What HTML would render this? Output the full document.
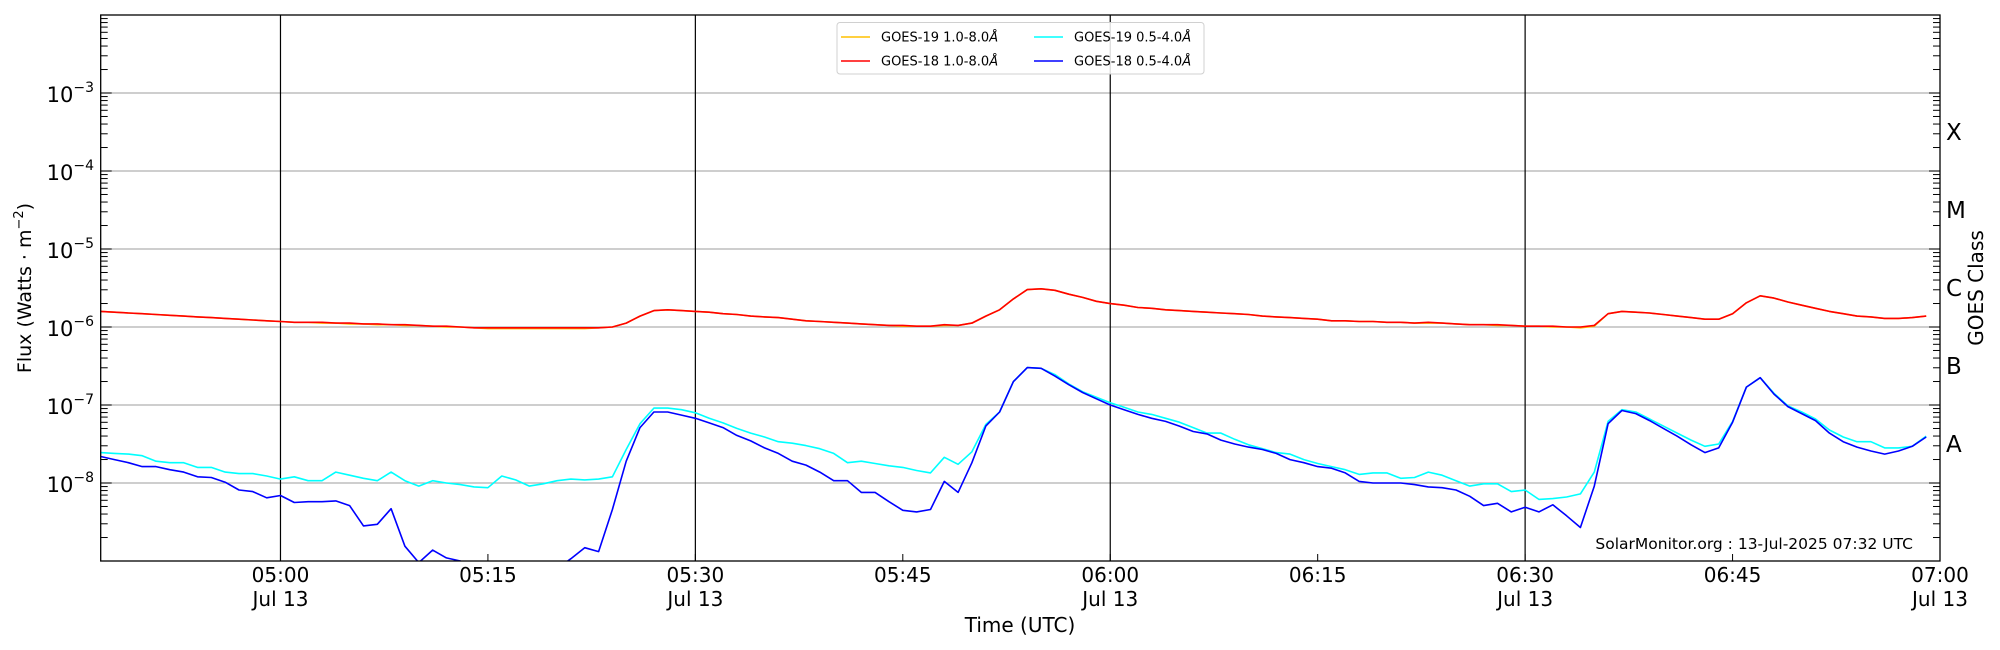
<!DOCTYPE html>
<html><head><meta charset="utf-8">
<style>
html,body{margin:0;padding:0;background:#fff;}
svg{display:block;font-family:"DejaVu Sans","Liberation Sans",sans-serif;}
</style></head>
<body>
<svg id="chart" width="2000" height="650" viewBox="0 0 2000 650" xmlns="http://www.w3.org/2000/svg">
  <defs><clipPath id="plotclip"><rect x="100.7" y="15" width="1839.3" height="546"/></clipPath></defs>
  <rect x="0" y="0" width="2000" height="650" fill="#fff"/>
  <g id="grid"></g>
  <g id="vlines"></g>
  <g id="series" clip-path="url(#plotclip)"></g>
  <rect x="100.7" y="15" width="1839.3" height="546" fill="none" stroke="#000" stroke-width="1.3"/>
  <g id="ticks"></g>
  <g id="ylabels" font-size="21" text-anchor="end"></g>
  <g id="xlabels" font-size="20" text-anchor="middle"></g>
  <g id="classlabels" font-size="23"></g>
  <text x="0" y="0" font-size="19" text-anchor="middle" transform="translate(31,288) rotate(-90)">Flux (Watts · m<tspan font-size="13" dy="-8">−2</tspan><tspan dy="8">)</tspan></text>
  <text x="1020" y="632" font-size="20" text-anchor="middle">Time (UTC)</text>
  <text x="0" y="0" font-size="20" text-anchor="middle" transform="translate(1983,288) rotate(-90)">GOES Class</text>
  <text x="1913" y="549" font-size="15.5" text-anchor="end">SolarMonitor.org : 13-Jul-2025 07:32 UTC</text>
  <g>
    <rect x="837" y="22.5" width="367" height="51.5" rx="3" fill="#fff" fill-opacity="0.85" stroke="#d0d0d0" stroke-width="1"/>
    <g>
      <line x1="841" y1="37" x2="870" y2="37" stroke="#ffc000" stroke-width="1.5"/>
      <text x="881" y="41.5" font-size="13">GOES-19 1.0-8.0<tspan font-style="italic">Å</tspan></text>
    </g>
    <g>
      <line x1="841" y1="61" x2="870" y2="61" stroke="#ff0000" stroke-width="1.5"/>
      <text x="881" y="65.5" font-size="13">GOES-18 1.0-8.0<tspan font-style="italic">Å</tspan></text>
    </g>
    <g>
      <line x1="1034" y1="37" x2="1063" y2="37" stroke="#00ffff" stroke-width="1.5"/>
      <text x="1074" y="41.5" font-size="13">GOES-19 0.5-4.0<tspan font-style="italic">Å</tspan></text>
    </g>
    <g>
      <line x1="1034" y1="61" x2="1063" y2="61" stroke="#0000ff" stroke-width="1.5"/>
      <text x="1074" y="65.5" font-size="13">GOES-18 0.5-4.0<tspan font-style="italic">Å</tspan></text>
    </g>
  </g>
</svg>
<script>
// ---- data (log10 of flux in W/m^2, one sample per minute starting 04:47 UTC) ----
const startMinute = 4 * 60 + 47;
const xTickMinutes = [300, 315, 330, 345, 360, 375, 390, 405, 420];
const xTickLabels = ["05:00", "05:15", "05:30", "05:45", "06:00", "06:15", "06:30", "06:45", "07:00"];
const markerMinutes = [300, 330, 360, 390];
const yTickExponents = [-3, -4, -5, -6, -7, -8];
const classLetters = ["A", "B", "C", "M", "X"];
const classExponents = [-8, -7, -6, -5, -4];

const g18LongLog = [-5.80,-5.81,-5.82,-5.83,-5.84,-5.85,-5.86,-5.87,-5.88,-5.89,-5.90,-5.91,-5.92,-5.93,-5.94,-5.94,-5.94,-5.95,-5.95,-5.96,-5.96,-5.97,-5.97,-5.98,-5.99,-5.99,-6.00,-6.01,-6.01,-6.01,-6.01,-6.01,-6.01,-6.01,-6.01,-6.01,-6.01,-6.00,-5.95,-5.86,-5.79,-5.78,-5.79,-5.80,-5.81,-5.83,-5.84,-5.86,-5.87,-5.88,-5.90,-5.92,-5.93,-5.94,-5.95,-5.96,-5.97,-5.98,-5.98,-5.99,-5.99,-5.97,-5.98,-5.95,-5.86,-5.78,-5.64,-5.52,-5.51,-5.53,-5.58,-5.62,-5.67,-5.70,-5.72,-5.75,-5.76,-5.78,-5.79,-5.80,-5.81,-5.82,-5.83,-5.84,-5.86,-5.87,-5.88,-5.89,-5.90,-5.92,-5.92,-5.93,-5.93,-5.94,-5.94,-5.95,-5.94,-5.95,-5.96,-5.97,-5.97,-5.97,-5.98,-5.99,-5.99,-5.99,-6.00,-6.00,-5.98,-5.83,-5.80,-5.81,-5.82,-5.84,-5.86,-5.88,-5.90,-5.90,-5.83,-5.69,-5.60,-5.63,-5.68,-5.72,-5.76,-5.80,-5.83,-5.86,-5.87,-5.89,-5.89,-5.88,-5.86];
const g19LongLog = [-5.80,-5.81,-5.82,-5.83,-5.84,-5.85,-5.86,-5.87,-5.88,-5.89,-5.90,-5.91,-5.92,-5.93,-5.94,-5.94,-5.95,-5.95,-5.96,-5.96,-5.97,-5.97,-5.98,-5.98,-5.99,-6.00,-6.00,-6.01,-6.02,-6.02,-6.02,-6.02,-6.02,-6.02,-6.02,-6.02,-6.01,-6.00,-5.95,-5.86,-5.79,-5.78,-5.79,-5.80,-5.81,-5.83,-5.84,-5.86,-5.87,-5.88,-5.90,-5.92,-5.93,-5.94,-5.95,-5.96,-5.97,-5.98,-5.99,-5.99,-5.99,-5.98,-5.98,-5.95,-5.86,-5.78,-5.64,-5.52,-5.51,-5.53,-5.58,-5.62,-5.67,-5.70,-5.72,-5.75,-5.76,-5.78,-5.79,-5.80,-5.81,-5.82,-5.83,-5.84,-5.86,-5.87,-5.88,-5.89,-5.90,-5.92,-5.92,-5.93,-5.93,-5.94,-5.94,-5.95,-5.95,-5.95,-5.96,-5.97,-5.97,-5.98,-5.98,-5.99,-5.99,-6.00,-6.00,-6.01,-5.99,-5.83,-5.80,-5.81,-5.82,-5.84,-5.86,-5.88,-5.90,-5.90,-5.83,-5.69,-5.60,-5.63,-5.68,-5.72,-5.76,-5.80,-5.83,-5.86,-5.87,-5.89,-5.89,-5.88,-5.86];
const g19ShortLog = [-7.61,-7.62,-7.63,-7.65,-7.72,-7.74,-7.74,-7.80,-7.80,-7.86,-7.88,-7.88,-7.91,-7.95,-7.92,-7.97,-7.97,-7.86,-7.90,-7.94,-7.97,-7.86,-7.97,-8.04,-7.97,-8.00,-8.02,-8.05,-8.06,-7.91,-7.96,-8.04,-8.01,-7.97,-7.95,-7.96,-7.95,-7.92,-7.57,-7.24,-7.04,-7.04,-7.06,-7.10,-7.17,-7.23,-7.30,-7.36,-7.41,-7.47,-7.49,-7.52,-7.56,-7.62,-7.74,-7.72,-7.75,-7.78,-7.80,-7.84,-7.87,-7.67,-7.76,-7.60,-7.25,-7.09,-6.70,-6.52,-6.53,-6.61,-6.73,-6.83,-6.90,-6.97,-7.03,-7.09,-7.12,-7.17,-7.22,-7.29,-7.36,-7.36,-7.44,-7.51,-7.56,-7.61,-7.63,-7.70,-7.75,-7.79,-7.83,-7.89,-7.87,-7.87,-7.94,-7.93,-7.86,-7.90,-7.97,-8.04,-8.01,-8.01,-8.11,-8.09,-8.21,-8.20,-8.18,-8.14,-7.86,-7.21,-7.06,-7.09,-7.18,-7.27,-7.36,-7.45,-7.53,-7.50,-7.21,-6.77,-6.65,-6.85,-7.01,-7.09,-7.18,-7.32,-7.41,-7.47,-7.47,-7.55,-7.55,-7.53,-7.40];
const g18ShortLog = [-7.66,-7.70,-7.74,-7.79,-7.79,-7.83,-7.86,-7.92,-7.93,-7.99,-8.09,-8.11,-8.19,-8.16,-8.25,-8.24,-8.24,-8.23,-8.29,-8.55,-8.53,-8.33,-8.81,-9.02,-8.86,-8.96,-9.00,-9.10,-9.10,-9.10,-9.10,-9.10,-9.10,-9.10,-8.97,-8.83,-8.88,-8.34,-7.72,-7.29,-7.09,-7.09,-7.13,-7.17,-7.23,-7.29,-7.39,-7.46,-7.55,-7.62,-7.72,-7.77,-7.86,-7.97,-7.97,-8.12,-8.12,-8.24,-8.35,-8.37,-8.34,-7.98,-8.12,-7.74,-7.27,-7.09,-6.70,-6.52,-6.53,-6.63,-6.74,-6.84,-6.92,-7.00,-7.06,-7.12,-7.17,-7.21,-7.27,-7.34,-7.37,-7.45,-7.50,-7.54,-7.57,-7.62,-7.70,-7.74,-7.79,-7.81,-7.87,-7.98,-8.00,-8.00,-8.00,-8.02,-8.05,-8.06,-8.09,-8.17,-8.29,-8.26,-8.37,-8.31,-8.37,-8.28,-8.42,-8.57,-8.04,-7.24,-7.07,-7.11,-7.20,-7.30,-7.40,-7.51,-7.61,-7.55,-7.22,-6.77,-6.65,-6.86,-7.02,-7.11,-7.20,-7.36,-7.47,-7.54,-7.59,-7.63,-7.59,-7.53,-7.41];

// ---- axes ----
const PL = 100.7, PR = 1940, PT = 15, PB = 561;
const minMinute = startMinute, maxMinute = 420;
const yTopExp = -2, yBotExp = -9;
function xScale(m) { return PL + (m - minMinute) / (maxMinute - minMinute) * (PR - PL); }
function yScale(lg) { return PT + (yTopExp - lg) / (yTopExp - yBotExp) * (PB - PT); }

const NS = "http://www.w3.org/2000/svg";
function mk(tag, attrs, parent) {
  const e = document.createElementNS(NS, tag);
  for (const k in attrs) e.setAttribute(k, attrs[k]);
  parent.appendChild(e);
  return e;
}
const grid = document.getElementById('grid');
const vlines = document.getElementById('vlines');
const series = document.getElementById('series');
const ticks = document.getElementById('ticks');
const ylabels = document.getElementById('ylabels');
const xlabels = document.getElementById('xlabels');
const classlabels = document.getElementById('classlabels');

for (let e = -3; e >= -8; e--) {
  const y = yScale(e);
  const g = mk('line', {x1: PL, x2: PR, y1: y, y2: y, stroke: '#b0b0b0', 'stroke-width': 1.2}, grid);
  
  
}
markerMinutes.forEach(m => {
  const x = xScale(m);
  const l = mk('line', {x1: x, x2: x, y1: PT, y2: PB, stroke: '#000', 'stroke-width': 1.2}, vlines);
  
  
});
for (let e = -9; e < -2; e++) {
  for (let k = 1; k <= 9; k++) {
    const lg = e + Math.log10(k);
    if (lg < yBotExp || lg > yTopExp) continue;
    const y = yScale(lg);
    const len = k === 1 ? 11 : 7;
    const t1 = mk('line', {x1: PL, x2: PL + len, y1: y, y2: y, stroke: '#000', 'stroke-width': 1}, ticks);
    
    
    const t2 = mk('line', {x1: PR, x2: PR - len, y1: y, y2: y, stroke: '#000', 'stroke-width': 1}, ticks);
    
    
  }
}
yTickExponents.forEach(e => {
  const y = yScale(e);
  const t = mk('text', {x: 94, y: y + 9}, ylabels);
  
  
  t.innerHTML = '10<tspan font-size="14" dy="-10">−' + Math.abs(e) + '</tspan>';
});
xTickMinutes.forEach((m, i) => {
  const x = xScale(m);
  const t = mk('line', {x1: x, x2: x, y1: PB, y2: PB - 7, stroke: '#000', 'stroke-width': 1}, ticks);
  
  
  const l1 = mk('text', {x: x, y: 582}, xlabels);
  
  
  l1.textContent = xTickLabels[i];
  if (markerMinutes.indexOf(m) >= 0 || m === 420) {
    const l2 = mk('text', {x: x, y: 606}, xlabels);
    
    
    l2.textContent = 'Jul 13';
  }
});
classLetters.forEach((c, i) => {
  const y = yScale(classExponents[i] + 0.5);
  const t = mk('text', {x: 1946, y: y + 8}, classlabels);
  
  
  t.textContent = c;
});
function drawSeries(vals, color, name, width) {
  let d = '';
  vals.forEach((v, i) => {
    d += (i ? 'L' : 'M') + xScale(startMinute + i).toFixed(1) + ',' + yScale(v).toFixed(1);
  });
  const p = mk('path', {d: d, fill: 'none', stroke: color, 'stroke-width': width, 'stroke-linejoin': 'round'}, series);
  
  
}
drawSeries(g19LongLog, '#ffc000', 'goes19-long-line', 1.6);
drawSeries(g18LongLog, '#ff0000', 'goes18-long-line', 1.6);
drawSeries(g19ShortLog, '#00ffff', 'goes19-short-line', 1.6);
drawSeries(g18ShortLog, '#0000ff', 'goes18-short-line', 1.6);
</script>
</body></html>
